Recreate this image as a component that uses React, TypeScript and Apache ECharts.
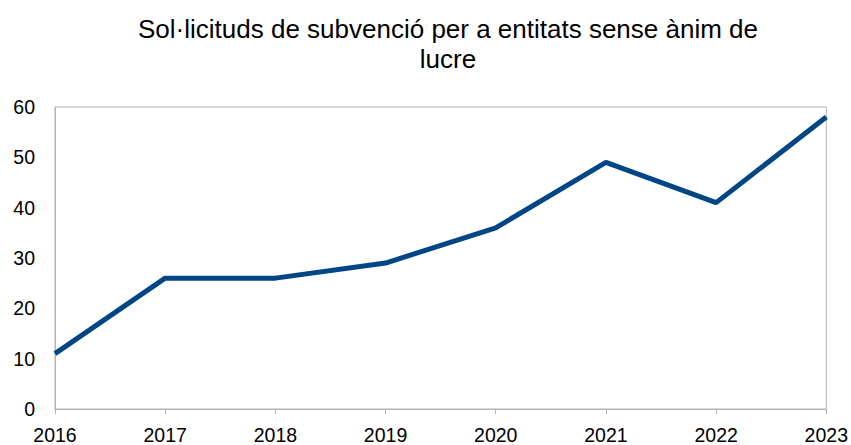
import React, { useEffect, useRef } from "react";
import * as echarts from "echarts";

const years = ["2016", "2017", "2018", "2019", "2020", "2021", "2022", "2023"];
const requests = [11, 26, 26, 29, 36, 49, 41, 58];
const titleText = "Sol·licituds de subvenció per a entitats sense ànim de\nlucre";

const FONT = "Liberation Sans, Arial, sans-serif";

export default function App() {
  const ref = useRef<HTMLDivElement>(null);
  useEffect(() => {
    if (!ref.current) return;
    const chart = echarts.init(ref.current, null, { renderer: "svg" });
    chart.setOption({
      animation: false,
      backgroundColor: "#ffffff",
      textStyle: { fontFamily: FONT },
      title: {
        text: titleText,
        left: 443,
        top: 9,
        textAlign: "center",
        textStyle: {
          fontFamily: FONT,
          fontSize: 26,
          fontWeight: "normal",
          color: "#000",
          lineHeight: 30,
        },
      },
      grid: {
        left: 55,
        right: 24,
        top: 107,
        bottom: 35,
        show: true,
        borderColor: "#b3b3b3",
        borderWidth: 1,
      },
      xAxis: {
        type: "category",
        data: years,
        boundaryGap: false,
        axisLine: { lineStyle: { color: "#b3b3b3", width: 1 } },
        axisTick: { show: true, length: 5, alignWithLabel: true, lineStyle: { color: "#b3b3b3" } },
        axisLabel: { color: "#000", fontSize: 19.5, margin: 16, fontFamily: FONT },
        splitLine: { show: false },
      },
      yAxis: {
        type: "value",
        min: 0,
        max: 60,
        interval: 10,
        axisLine: { show: true, lineStyle: { color: "#b3b3b3", width: 1 } },
        axisTick: { show: false },
        axisLabel: { color: "#000", fontSize: 19.5, margin: 20, fontFamily: FONT },
        splitLine: { show: false },
      },
      series: [
        {
          type: "line",
          data: requests,
          symbol: "none",
          lineStyle: { color: "#004586", width: 5 },
          itemStyle: { color: "#004586" },
        },
      ],
    });
    return () => chart.dispose();
  }, []);
  return (
    <div
      ref={ref}
      style={{ position: "fixed", left: 0, top: 0, width: 851, height: 445 }}
    />
  );
}
